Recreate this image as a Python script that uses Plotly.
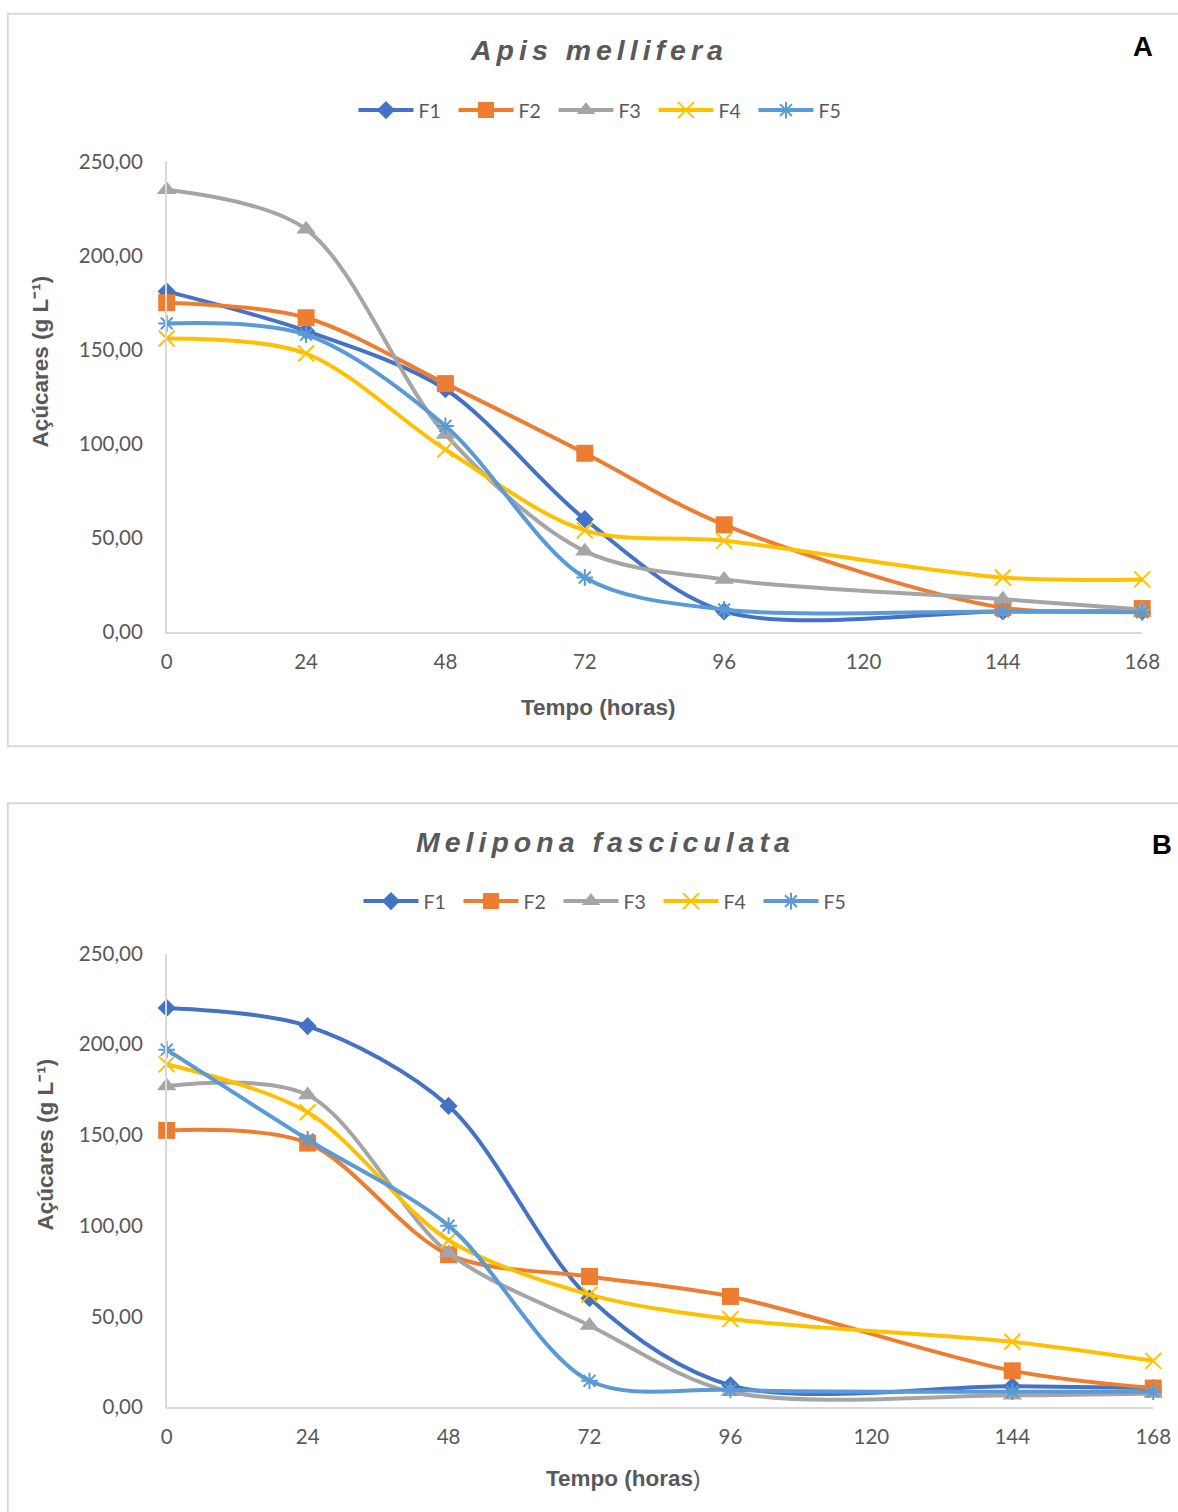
import plotly.graph_objects as go

# Sampling times (hours) and series labels
hours = [0, 24, 48, 72, 96, 144, 168]
x_ticks = [0, 24, 48, 72, 96, 120, 144, 168]
series_names = ["F1", "F2", "F3", "F4", "F5"]
y_ticks = [0, 50, 100, 150, 200, 250]

# Total sugars (g/L) - Apis mellifera
apis_f1 = [181, 160, 129, 60, 11, 11, 11]
apis_f2 = [175, 167, 132, 95, 57, 13, 12.5]
apis_f3 = [235, 214, 105, 43, 28, 17.5, 12]
apis_f4 = [156, 148, 97, 54, 48.5, 29, 28]
apis_f5 = [164, 158, 109.5, 29, 12, 11, 10.5]

# Total sugars (g/L) - Melipona fasciculata
meli_f1 = [220, 210, 166, 60, 12, 11.5, 10.5]
meli_f2 = [152.5, 145.5, 84, 72, 61, 20, 10.5]
meli_f3 = [177, 172, 85, 45, 8.5, 6.5, 7.5]
meli_f4 = [189, 162.5, 92, 62, 48.5, 36, 25.5]
meli_f5 = [197, 147.5, 100, 14.5, 9.5, 8.5, 8.5]

colors = ["#4472C4", "#ED7D31", "#A5A5A5", "#FFC000", "#5B9BD5"]
symbols = ["diamond", "square", "triangle-up", "x-thin", "asterisk"]
sizes = [14, 17, 17, 16, 14]

# Figure size and the page -> figure coordinate conversion used for placement
W, H = 1200, 1526
SX, OX = 0.9805, 5.2
SY, OY = 0.983, 12.7
GREY = "#595959"
AXIS = "#D9D9D9"
TICK_FONT = dict(family="Lato", size=20.5, color=GREY)


def px(v):
    """Layout x position (px) -> paper fraction."""
    return ((v - OX) / SX) / W


def py(v):
    """Layout y position (px, from top) -> paper fraction."""
    return 1 - ((v - OY) / SY) / H


fig = go.Figure()

panels = [
    ([apis_f1, apis_f2, apis_f3, apis_f4, apis_f5], "x", "y", "legend"),
    ([meli_f1, meli_f2, meli_f3, meli_f4, meli_f5], "x2", "y2", "legend2"),
]

for data, xa, ya, lg in panels:
    for name, vals, c, s, sz in zip(series_names, data, colors, symbols, sizes):
        open_sym = s in ("x-thin", "asterisk")
        fig.add_trace(go.Scatter(
            x=hours, y=vals, name=name, mode="lines+markers",
            xaxis=xa, yaxis=ya, legend=lg, cliponaxis=False,
            line=dict(color=c, width=4, shape="spline", smoothing=0.9),
            marker=dict(symbol=s, size=sz, color=c,
                        line=dict(color=c, width=2 if open_sym else 0)),
        ))

xaxis_common = dict(range=[0, 168], tickvals=x_ticks,
                    showgrid=False, zeroline=False, showline=True,
                    linecolor=AXIS, linewidth=1.5, ticks="",
                    tickfont=TICK_FONT, ticklabelstandoff=11)
yaxis_common = dict(range=[0, 250], tickvals=y_ticks, tickformat=".2f",
                    showgrid=False, zeroline=False, showline=True,
                    linecolor=AXIS, linewidth=1.5, ticks="",
                    tickfont=TICK_FONT, ticklabelstandoff=18)

legend_common = dict(orientation="h", xanchor="center", yanchor="middle",
                     font=dict(family="Lato", size=19.5, color=GREY),
                     bgcolor="rgba(0,0,0,0)", itemwidth=55,
                     entrywidth=30, entrywidthmode="pixels")

fig.update_layout(
    width=W, height=H,
    margin=dict(l=0, r=0, t=0, b=0),
    paper_bgcolor="white", plot_bgcolor="white",
    separators=",.",
    showlegend=True,
    xaxis=dict(domain=[px(166), px(1142)], anchor="y", **xaxis_common),
    yaxis=dict(domain=[py(631), py(161)], anchor="x", **yaxis_common),
    xaxis2=dict(domain=[px(166), px(1153)], anchor="y2", **xaxis_common),
    yaxis2=dict(domain=[py(1405), py(952)], anchor="x2", **yaxis_common),
    legend=dict(x=px(603), y=py(110), **legend_common),
    legend2=dict(x=px(608), y=py(900), **legend_common),
)

# Chart frames (open on the sides that run off the page)
frame = dict(color=AXIS, width=2)
top_a = min(py(10), 0.9995)
fig.add_shape(type="path", xref="paper", yref="paper",
              path=f"M 1,{top_a} L {px(7)},{top_a} L {px(7)},{py(745)} L 1,{py(745)}",
              line=frame)
fig.add_shape(type="path", xref="paper", yref="paper",
              path=f"M 1,{py(802)} L {px(7)},{py(802)} L {px(7)},0",
              line=frame)

title_font = dict(family="Liberation Sans", size=28.5, color=GREY)
axis_title_font = dict(family="Liberation Sans", size=22.5, color=GREY)
letter_font = dict(family="Liberation Sans", size=27.5, color="black")

y_title = "<b>Açúcares (g L⁻¹)</b>"

annotations = [
    dict(x=px(599), y=py(50), text='<span style="letter-spacing:5px"><b><i>Apis mellifera</i></b></span>',
         font=title_font),
    dict(x=px(605), y=py(841), text='<span style="letter-spacing:5px"><b><i>Melipona fasciculata</i></b></span>',
         font=title_font),
    dict(x=px(1143), y=py(46), text="<b>A</b>", font=letter_font),
    dict(x=px(1162), y=py(843), text="<b>B</b>", font=letter_font),
    dict(x=px(598), y=py(706), text="<b>Tempo (horas)</b>", font=axis_title_font),
    dict(x=px(623), y=py(1476), text="<b>Tempo (horas</b>)", font=axis_title_font),
    dict(x=px(40), y=py(361), text=y_title, textangle=-90, font=axis_title_font),
    dict(x=px(45), y=py(1143), text=y_title, textangle=-90, font=axis_title_font),
]
for a in annotations:
    fig.add_annotation(xref="paper", yref="paper", showarrow=False,
                       xanchor="center", yanchor="middle", **a)

fig.write_html("out.html")
